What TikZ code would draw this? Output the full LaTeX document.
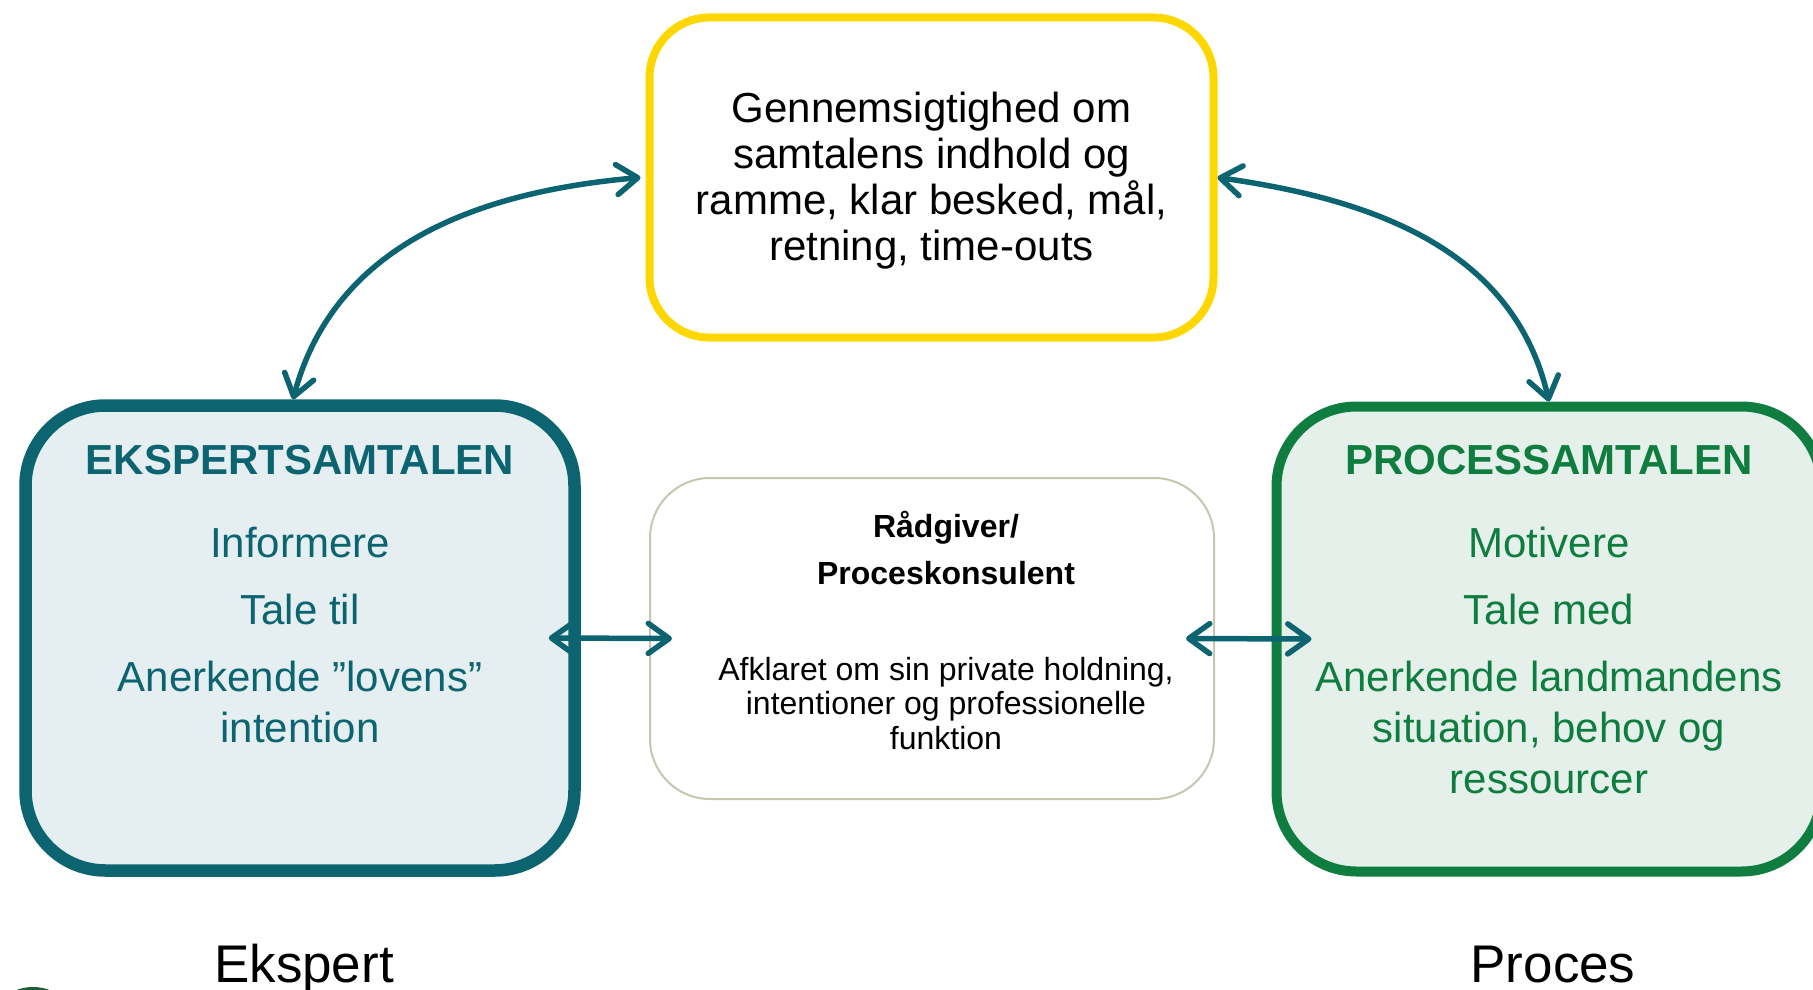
\documentclass[tikz,border=0pt]{standalone}
\usepackage{fontspec}
\setmainfont{Liberation Sans}
\usepackage{xcolor}
\usepackage{tikz}
\usetikzlibrary{positioning,arrows.meta,shapes}
\definecolor{samtaleteal}{HTML}{0B6470}
\definecolor{tealfill}{HTML}{E5EEF1}
\definecolor{procesgreen}{HTML}{0F7D3F}
\definecolor{greenfill}{HTML}{E4F0E9}
\definecolor{rammeyellow}{HTML}{FFD700}
\definecolor{raadgray}{HTML}{C8C6B0}
\definecolor{logogreen}{HTML}{1E5E36}

\begin{document}
\begin{tikzpicture}[x=1pt,y=1pt]
\tikzset{box/.style={rectangle,inner sep=0pt},
ekspertbox/.style={box,draw=samtaleteal,fill=tealfill,line width=12.5pt,rounded corners=80pt,minimum width=549pt,minimum height=465pt},
procesbox/.style={box,draw=procesgreen,fill=greenfill,line width=10pt,rounded corners=80pt,minimum width=545pt,minimum height=465pt},
rammebox/.style={box,draw=rammeyellow,line width=8pt,rounded corners=60pt,minimum width=564pt,minimum height=320pt},
raadbox/.style={box,draw=raadgray,line width=2pt,rounded corners=60pt,minimum width=564pt,minimum height=321pt},
titel/.style={anchor=base,font=\bfseries\fontsize{42}{51}\selectfont},
punkt/.style={anchor=base,align=center,font=\fontsize{42}{51}\selectfont},
biarrow/.style={draw=samtaleteal,line width=5.5pt,{Straight Barb[length=21pt,width=30pt,round]}-{Straight Barb[length=21pt,width=30pt,round]}}}

\useasboundingbox (0,0) rectangle (1813,-990);
\clip (0,0) rectangle (1813,-990);

% boxes
\node[rammebox] (ramme) at (931.5,-177.5) {};
\node[ekspertbox] (ekspert) at (300,-638) {};
\node[procesbox] (proces) at (1549,-639) {};
\node[raadbox] (raad) at (932,-638.5) {};

% top box (base = last line)
\node[punkt,font=\fontsize{42}{46}\selectfont] (rammetekst) at (931.5,-260) {Gennemsigtighed om\\samtalens indhold og\\ramme, klar besked, mål,\\retning, time-outs};

% left box
\node[titel,text=samtaleteal] (ekspertnavn) at (300,-474) {EKSPERTSAMTALEN};
\node[punkt,text=samtaleteal] (informere) at (300,-557) {Informere};
\node[punkt,text=samtaleteal] (taletil) at (300,-624) {Tale til};
\node[punkt,text=samtaleteal] (lovens) at (300,-742) {Anerkende ”lovens”\\intention};

% right box
\node[titel,text=procesgreen] (procesnavn) at (1549,-474) {PROCESSAMTALEN};
\node[punkt,text=procesgreen] (motivere) at (1549,-557) {Motivere};
\node[punkt,text=procesgreen] (talemed) at (1549,-624) {Tale med};
\node[punkt,text=procesgreen] (landmand) at (1549,-793) {Anerkende landmandens\\situation, behov og\\ressourcer};

% middle box
\node[anchor=base,align=center,font=\bfseries\fontsize{32}{47}\selectfont] (raadgiver) at (946,-584) {Rådgiver/\\Proceskonsulent};
\node[anchor=base,align=center,font=\fontsize{32}{34.5}\selectfont] (afklaret) at (946,-749) {Afklaret om sin private holdning,\\intentioner og professionelle\\funktion};

% labels below
\node[anchor=base,font=\fontsize{53}{60}\selectfont] (ekspertlabel) at (304,-982) {Ekspert};
\node[anchor=base,font=\fontsize{53}{60}\selectfont] (proceslabel) at (1553,-982) {Proces};
\fill[logogreen] (33,-1034) circle (47pt);

% arrows
\draw[biarrow] ([xshift=-7pt]ekspert.north) to[out=75,in=185] ([xshift=-5pt]ramme.west);
\draw[biarrow] (ramme.east) to[out=-8,in=103] (proces.north);
\draw[biarrow] ([xshift=-32pt]ekspert.east) -- ([xshift=23pt]raad.west);
\draw[biarrow] ([xshift=-29pt]raad.east) -- ([xshift=40pt]proces.west);
\end{tikzpicture}
\end{document}
